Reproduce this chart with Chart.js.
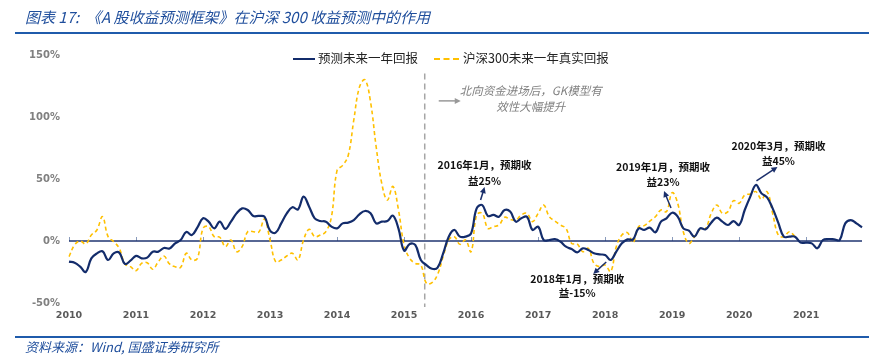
<!DOCTYPE html>
<html><head><meta charset="utf-8">
<script src="https://cdn.jsdelivr.net/npm/chart.js@4/dist/chart.umd.min.js"></script>
<style>
html,body{margin:0;padding:0;background:#fff;}
#wrap{position:relative;width:869px;height:360px;overflow:hidden;font-family:'Noto Sans CJK SC',sans-serif;}
#c{position:absolute;left:0;top:0;}
.title{position:absolute;left:25px;top:7px;font-size:15px;font-style:italic;color:#1f4e9c;white-space:nowrap;line-height:20px;}
.rule{position:absolute;left:15px;width:854px;height:2px;background:#1f5bab;}
.src{position:absolute;left:25px;top:338px;font-size:13px;font-style:italic;color:#1f4e9c;line-height:18px;white-space:nowrap;}
.lg{position:absolute;top:49px;font-size:12.5px;color:#222;line-height:18px;white-space:nowrap;}
.sw{position:absolute;top:58px;height:0;}
</style></head>
<body>
<div id="wrap">
<canvas id="c" width="869" height="360"></canvas>
<div class="title">图表 17:&nbsp;&nbsp;《A 股收益预测框架》在沪深 300 收益预测中的作用</div>
<div class="rule" style="top:32px"></div>
<div class="rule" style="top:336px"></div>
<div class="src">资料来源：Wind, 国盛证券研究所</div>
<div class="sw" style="left:293px;width:22px;border-top:2px solid #132c6b;"></div>
<div class="lg" style="left:318px">预测未来一年回报</div>
<div class="sw" style="left:434px;width:25px;border-top:2px dashed #ffc000;"></div>
<div class="lg" style="left:463px">沪深300未来一年真实回报</div>
</div>
<script>
const years = ['2010','2011','2012','2013','2014','2015','2016','2017','2018','2019','2020','2021'];
const lastMonthOf2021 = 11;
const categories = [];
years.forEach((y, yi) => {
  const n = yi === years.length - 1 ? lastMonthOf2021 : 12;
  for (let m = 1; m <= n; m++) categories.push(y + '-' + String(m).padStart(2, '0'));
});

const predicted = [
 -16.7,-17.5,-20.7,-25,-14,-10,-8.3,-15.3,-10,-9.4,-18.5,-15.9,
 -12,-14,-13.4,-8.6,-8.6,-5.6,-6,-1.9,0.8,7.3,4.8,11,
 18.3,15.6,10.2,15.6,9.7,15.6,22.3,26.3,25,20.2,20.2,19.6,
 8.3,6.7,14.2,22.3,27.2,25.5,35.8,27.7,18.3,16.1,15.6,11.6,
 10.2,14.2,14.8,16.9,21.5,24.2,22.3,14.2,15.6,16.1,20.4,10,
 -7.8,-2.4,-3.2,-15.3,-19.4,-22.4,-21.5,-10,3.5,8.9,3.5,3.5,
 6.2,26.3,29,20.2,21,19.6,25,23.7,15.6,18.3,19.6,8.9,
 11.6,0.8,0.8,1.6,-0.5,-4.6,-6.5,-9.1,-5.9,-7.3,-9.9,-10.8,
 -11.3,-15.3,-8.6,-1.9,1.3,1.3,10.2,8.9,10.8,7,15.6,18.3,
 22.8,19.6,10.2,8.3,3.5,10.2,9.4,14.8,18.8,15.6,12.9,16.1,
 12.9,25,35.8,45.2,38.4,35.2,26.3,14.8,3.5,3.5,3.5,-1.3,
 -1.3,-1.9,-5.9,0.8,1.6,1.3,0.8,14.2,16.9,14.2,11
];
const actual = [
 -12.6,-3.2,0,-2.4,4.8,8.9,19.6,3.5,-0.5,-5.9,-18.5,-20.7,
 -23.9,-18,-17.5,-22.8,-16.7,-12.1,-18.5,-20.7,-21.2,-9.9,-15.3,-14,
 10.2,11.6,3.5,3,-4.6,0.8,-8.6,-4.6,7.5,7.5,7.3,17.7,
 0.8,-16.7,-15.3,-12.1,-9.9,-15.3,0.8,9.4,3.5,4.8,7.5,19.6,
 57,61,69,97.6,124,130,112,76,46.5,33,44,25,
 -3,-14,-18,-19.4,-34.1,-33.6,-27,-12.6,0.8,3.5,-2.7,0.8,
 -8.6,21,22.3,10.2,11.6,12.9,19.1,17.5,16.9,21,22.3,15.6,
 22.3,29,19.6,16.1,12.9,10.2,-1.9,-2.4,-8.6,-5.9,-18,-20.7,
 -19.4,-24.7,-4.6,4.8,6.7,-1.3,11.6,12.4,16.1,19.6,25,23.7,
 39,30.4,7.5,-1.9,3.5,9.4,10.2,22.3,29,22.3,23.7,32.5,
 30.4,37.1,37.9,39.8,33.6,39.8,22.3,4.8,3.5,7.5,3.5
];
const yTicks = [-50, 0, 50, 100, 150];
const seriesNames = ['预测未来一年回报', '沪深300未来一年真实回报'];

const northboundIndex = 63.7;
const northboundNote = ['北向资金进场后，GK模型有', '效性大幅提升'];
const notes = [
 {t1:'2016年1月，预期收', t2:'益25%', i:73.7, v:33, hx:4, hy:-13, tx:4, ty1:-35, ty2:-19},
 {t1:'2019年1月，预期收', t2:'益23%', i:107.8, v:26.6, hx:-7, hy:-17, tx:-8, ty1:-41, ty2:-26},
 {t1:'2020年3月，预期收', t2:'益45%', i:123.1, v:48.4, hx:21, hy:-14, tx:22, ty1:-35, ty2:-20},
 {t1:'2018年1月，预期收', t2:'益-15%', i:96.2, v:-16.9, hx:-13, hy:12, tx:-29, ty1:17, ty2:31}
];

const actualFull = categories.map((_, k) => k < actual.length ? actual[k] : null);

function arrow(ctx, x1, y1, x2, y2, color, w) {
  ctx.save();
  ctx.strokeStyle = color; ctx.fillStyle = color; ctx.lineWidth = w; ctx.setLineDash([]);
  const a = Math.atan2(y2 - y1, x2 - x1), L = 6, h = 3;
  ctx.beginPath(); ctx.moveTo(x1, y1); ctx.lineTo(x2 - 3 * Math.cos(a), y2 - 3 * Math.sin(a)); ctx.stroke();
  ctx.beginPath(); ctx.moveTo(x2, y2);
  ctx.lineTo(x2 - L * Math.cos(a) + h * Math.sin(a), y2 - L * Math.sin(a) - h * Math.cos(a));
  ctx.lineTo(x2 - L * Math.cos(a) - h * Math.sin(a), y2 - L * Math.sin(a) + h * Math.cos(a));
  ctx.closePath(); ctx.fill();
  ctx.restore();
}

const decor = {
  id: 'decor',
  beforeDatasetsDraw(chart) {
    const {ctx, scales: {x, y}, chartArea} = chart;
    const y0 = y.getPixelForValue(0);
    ctx.save();
    ctx.strokeStyle = '#8a9bbb'; ctx.lineWidth = 1;
    categories.forEach((c, k) => {
      if (c.endsWith('-01')) {
        const px = Math.round(x.getPixelForValue(k)) + 0.5;
        ctx.beginPath(); ctx.moveTo(px, y0); ctx.lineTo(px, y0 - 4); ctx.stroke();
      }
    });
    ctx.strokeStyle = '#1f3570'; ctx.lineWidth = 1.5;
    ctx.beginPath(); ctx.moveTo(chartArea.left, y0); ctx.lineTo(chartArea.right, y0); ctx.stroke();
    const dx = x.getPixelForValue(northboundIndex);
    ctx.strokeStyle = '#a6a6a6'; ctx.lineWidth = 1.5; ctx.setLineDash([6, 4]);
    ctx.beginPath(); ctx.moveTo(dx, y.getPixelForValue(135)); ctx.lineTo(dx, chartArea.bottom + 4); ctx.stroke();
    ctx.restore();
  },
  afterDatasetsDraw(chart) {
    const {ctx, scales: {x, y}} = chart;
    const dx = x.getPixelForValue(northboundIndex);
    const ay = y.getPixelForValue(113);
    arrow(ctx, dx + 14, ay, dx + 36, ay, '#999999', 1.5);
    ctx.save();
    ctx.fillStyle = '#808080';
    ctx.font = "italic 11.5px 'Noto Sans CJK SC'";
    ctx.textAlign = 'center'; ctx.textBaseline = 'middle';
    ctx.fillText(northboundNote[0], dx + 106, ay - 10);
    ctx.fillText(northboundNote[1], dx + 106, ay + 6);
    ctx.restore();
    notes.forEach(n => {
      const px = x.getPixelForValue(n.i), py = y.getPixelForValue(n.v);
      arrow(ctx, px, py, px + n.hx, py + n.hy, '#1b2f6b', 1.5);
      ctx.save();
      ctx.fillStyle = '#111';
      ctx.font = "bold 10.5px 'Noto Sans CJK SC'";
      ctx.textAlign = 'center'; ctx.textBaseline = 'middle';
      ctx.fillText(n.t1, px + n.tx, py + n.ty1);
      ctx.fillText(n.t2, px + n.tx, py + n.ty2);
      ctx.restore();
    });
  }
};

new Chart(document.getElementById('c'), {
  type: 'line',
  data: {
    labels: categories,
    datasets: [
      {label: seriesNames[0], data: predicted, borderColor: '#132c6b', borderWidth: 2.2, pointRadius: 0, tension: 0.4, fill: false},
      {label: seriesNames[1], data: actualFull, borderColor: '#ffc000', borderWidth: 1.6, borderDash: [4, 3], pointRadius: 0, tension: 0.4, fill: false, spanGaps: false}
    ]
  },
  options: {
    responsive: false,
    animation: false,
    events: [],
    layout: {padding: {top: 55, right: 4.5, bottom: 37, left: 0}},
    plugins: {legend: {display: false}, tooltip: {enabled: false}},
    scales: {
      x: {
        type: 'category',
        offset: false,
        grid: {display: false, drawTicks: false},
        border: {display: false},
        afterFit(s) { s.height = 20; },
        ticks: {
          autoSkip: false, maxRotation: 0, minRotation: 0, padding: 7,
          color: '#595959',
          font: {family: 'DejaVu Sans', weight: 'bold', size: 9.5},
          callback(v, k) { const c = categories[k]; return c.endsWith('-01') ? c.slice(0, 4) : ''; }
        }
      },
      y: {
        min: yTicks[0], max: yTicks[yTicks.length - 1],
        afterBuildTicks(s) { s.ticks = yTicks.map(v => ({value: v})); },
        afterFit(s) { s.width = 69; },
        grid: {display: false, drawTicks: false},
        border: {display: false},
        ticks: {
          padding: 9, color: '#808080',
          font: {family: 'DejaVu Sans', weight: 'bold', size: 10},
          callback(v) { return v + '%'; }
        }
      }
    }
  },
  plugins: [decor]
});
</script>
</body></html>
